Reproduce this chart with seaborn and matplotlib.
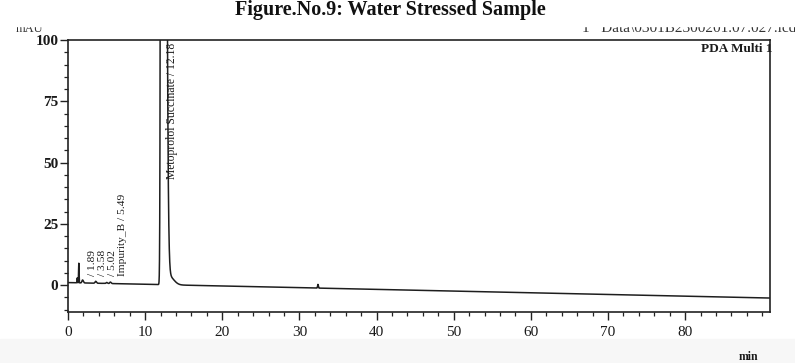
import numpy as np
import pandas as pd
import matplotlib
matplotlib.use("Agg")
import matplotlib.pyplot as plt
import seaborn as sns
from matplotlib.ticker import MultipleLocator

# Peak table: retention time (min), apex height (mAU), left/right widths (min)
peak_rt = [1.20, 1.40, 1.89, 3.58, 5.02, 5.49, 12.18, 13.10, 32.40]
peak_height = [2.0, 8.0, 1.2, 0.8, 0.4, 0.6, 1700.0, 3.5, 1.5]
peak_sigma_left = [0.03, 0.03, 0.08, 0.08, 0.08, 0.08, 0.10, 0.30, 0.05]
peak_sigma_right = [0.03, 0.03, 0.10, 0.10, 0.10, 0.10, 0.30, 0.60, 0.05]

# Baseline drift: level at start and end of the run (mAU)
baseline_start = 1.0
baseline_end = -5.3
run_end = 91.0

# Labelled peaks
label_rt = [1.89, 3.58, 5.02, 5.49]
label_text = ["/ 1.89", "/ 3.58", "/ 5.02", "Impurity_B / 5.49"]
main_rt = 12.18
main_label = "Metoprolol Succinate / 12.18"

# horizontal offsets of the peak labels (points)
label_dx = [6.8, 4.6, 3.8, 8.4]

t = np.linspace(0, run_end, 9101)
signal = baseline_start + (baseline_end - baseline_start) * t / run_end
for rt, h, sl, sr in zip(peak_rt, peak_height, peak_sigma_left, peak_sigma_right):
    s = np.where(t < rt, sl, sr)
    signal = signal + h * np.exp(-0.5 * ((t - rt) / s) ** 2)
trace = pd.DataFrame({"min": t, "mAU": signal})

sns.set_theme(style="ticks")
serif = ["Liberation Serif", "DejaVu Serif"]
plt.rcParams["font.family"] = serif

fig = plt.figure(figsize=(7.95, 3.63), dpi=100)
# faint grey band at the foot of the page
fig.patches.append(plt.Rectangle((0, 0), 1, 24 / 363, transform=fig.transFigure,
                                 color="#f7f7f7", zorder=0))
ax = fig.add_axes([68 / 795, 51 / 363, 702 / 795, 272 / 363])

sns.lineplot(data=trace, x="min", y="mAU", ax=ax, color="#1e1e1e",
             linewidth=1.1, estimator=None, sort=False)

ax.set_xlim(0, run_end)
ax.set_ylim(-11, 100)
ax.set_xlabel("")
ax.set_ylabel("")

ax.xaxis.set_major_locator(MultipleLocator(10))
ax.xaxis.set_minor_locator(MultipleLocator(2))
ax.yaxis.set_major_locator(MultipleLocator(25))
ax.yaxis.set_minor_locator(MultipleLocator(5))
ax.set_xticks(range(0, 90, 10))
ax.set_yticks([0, 25, 50, 75, 100])
ax.tick_params(axis="both", which="major", direction="out", length=6,
               width=1.0, color="#222222", labelsize=11, labelcolor="#1a1a1a")
ax.tick_params(axis="both", which="minor", direction="out", length=3,
               width=0.9, color="#222222")
ax.tick_params(axis="x", pad=4)
ax.tick_params(axis="y", pad=1)
for lab in ax.get_yticklabels():
    lab.set_fontweight("bold")

for side in ["left", "right", "top", "bottom"]:
    ax.spines[side].set_visible(True)
    ax.spines[side].set_color("#222222")
    ax.spines[side].set_linewidth(1.2)

# Peak labels
for rt, txt, dx in zip(label_rt, label_text, label_dx):
    ax.annotate(txt, xy=(rt, 3.6), xytext=(dx, 0), textcoords="offset points",
                rotation=90, ha="center", va="bottom", fontsize=8.2,
                color="#1a1a1a", family=serif)
ax.annotate(main_label, xy=(main_rt, 99), xytext=(7.5, 0),
            textcoords="offset points", rotation=90, ha="center", va="top",
            fontsize=8.4, color="#1a1a1a", family=serif)

ax.text(1.004, 0.99, "PDA Multi 1", transform=ax.transAxes, ha="right",
        va="top", fontsize=9.5, fontweight="bold", color="#1a1a1a", family=serif)

# Header fragments (cut off by the page edge) and title
fig.text(43 / 795, 1 - 29 / 363, "mAU", ha="right", va="center", fontsize=9,
         color="#333333", family=serif)
fig.text(582 / 795, 1 - 28 / 363, "1   Data\\0301B2300201.07.027.lcd",
         ha="left", va="center", fontsize=11, color="#333333", family=serif)
fig.patches.append(plt.Rectangle((0, 1 - 26 / 363), 1, 26 / 363,
                                 transform=fig.transFigure, color="white",
                                 zorder=5))
fig.text(390 / 795, 1 - 10 / 363, "Figure.No.9: Water Stressed Sample",
         ha="center", va="center", fontsize=14.5, fontweight="bold",
         color="#111111", family=serif, zorder=6)
fig.text(748 / 795, 1 - 357 / 363, "min", ha="center", va="center",
         fontsize=8.5, fontweight="bold", color="#1a1a1a", family=serif)

fig.savefig("out.png", dpi=100, facecolor="white")
